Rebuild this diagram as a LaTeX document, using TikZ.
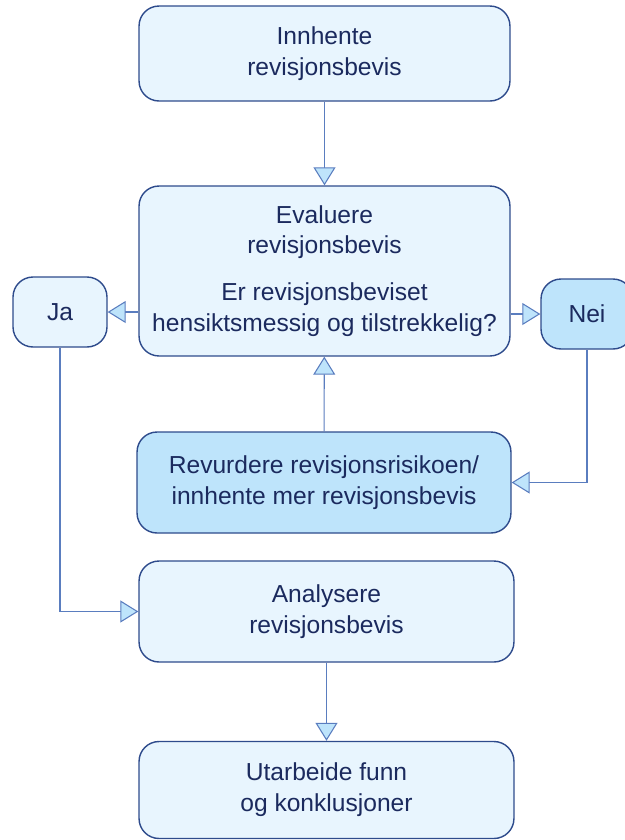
\documentclass[tikz,border=0pt]{standalone}
\usepackage{fontspec}
\setmainfont{Liberation Sans}
\usetikzlibrary{arrows.meta}
\definecolor{boxfill}{HTML}{E8F5FE}
\definecolor{boxdark}{HTML}{BEE4FB}
\definecolor{boxline}{HTML}{2E4B8C}
\definecolor{arrline}{HTML}{5A7DBF}
\definecolor{txt}{HTML}{1B2A5E}
\tikzset{
  stepbox/.style={draw=boxline, line width=0.8pt, fill=boxfill, rounded corners=0.4cm,
    align=center, text=txt, font=\fontsize{14}{17.5}\selectfont, inner sep=0pt},
  darkbox/.style={stepbox, fill=boxdark},
  arr/.style={draw=arrline, line width=0.6pt,
    -{Triangle[length=0.36cm, width=0.44cm, fill=boxdark, line width=0.6pt]}}
}
\begin{document}
\begin{tikzpicture}[x=0.02cm, y=-0.02cm]
    \useasboundingbox (0,0) rectangle (625,840);
    % boxes
    \node[stepbox, minimum width=7.42cm, minimum height=1.9cm] (get) at (324.5,53.5) {Innhente\\revisjonsbevis};
    \node[stepbox, minimum width=7.42cm, minimum height=3.4cm] (eval) at (324.5,271)
        {Evaluere\\revisjonsbevis\\[0.32cm]Er revisjonsbeviset\\hensiktsmessig og tilstrekkelig?};
    \node[stepbox, minimum width=1.88cm, minimum height=1.4cm] (ja) at (60,312) {Ja};
    \node[darkbox, minimum width=1.84cm, minimum height=1.4cm] (nei) at (587,314) {Nei};
    \node[darkbox, minimum width=7.48cm, minimum height=2.02cm] (rev) at (324,482.5)
        {Revurdere revisjonsrisikoen/\\innhente mer revisjonsbevis};
    \node[stepbox, minimum width=7.5cm, minimum height=2.02cm] (ana) at (326.5,611.5) {Analysere\\revisjonsbevis};
    \node[stepbox, minimum width=7.5cm, minimum height=1.94cm] (conc) at (326.5,790) {Utarbeide funn\\og konklusjoner};
    % connectors
    \draw[arr] (get) -- (eval);
    \draw[arr] (eval.west |- ja.east) -- (ja.east);
    \draw[arr] (eval.east |- nei.west) -- (nei.west);
    \draw[arr] (nei.south) |- (rev.east);
    \draw[arr] (rev) -- (eval);
    \draw[arr] (ja.south) |- (ana.west);
    \draw[arr] (ana) -- (conc);
\end{tikzpicture}
\end{document}
